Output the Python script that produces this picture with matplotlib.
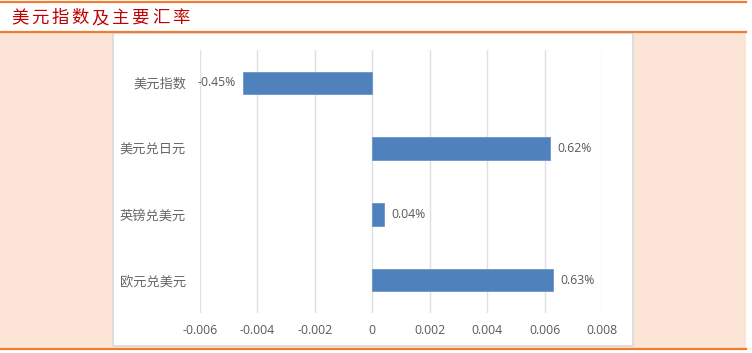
import matplotlib.pyplot as plt
from matplotlib.patches import Rectangle

plt.rcParams['font.family'] = ['Noto Sans CJK SC', 'DejaVu Sans']

title = "美元指数及主要汇率"
categories = ["美元指数", "美元兑日元", "英镑兑美元", "欧元兑美元"]
values = [-0.0045, 0.0062, 0.0004, 0.0063]
xticks = [-0.006, -0.004, -0.002, 0, 0.002, 0.004, 0.006, 0.008]
xtick_labels = ["-0.006", "-0.004", "-0.002", "0", "0.002", "0.004", "0.006", "0.008"]

W, H = 752, 353
fig = plt.figure(figsize=(W / 100, H / 100), dpi=100)
fig.patch.set_facecolor("white")

def fx(px):
    return px / W

def fy(py):
    return 1 - py / H

orange = "#ED7D31"
peach = "#FCE4D6"
grey = "#595959"

# peach background and white chart panel
fig.add_artist(Rectangle((0, fy(349)), fx(746), fy(32) - fy(349),
                         transform=fig.transFigure, facecolor=peach, edgecolor="none", zorder=0))
fig.add_artist(Rectangle((fx(113), fy(346)), fx(633 - 113), fy(33) - fy(346),
                         transform=fig.transFigure, facecolor="white", edgecolor="#D9D9D9",
                         linewidth=1.2, zorder=1))

# orange rules
for py in (2, 32, 349):
    fig.add_artist(plt.Line2D([0, fx(746)], [fy(py), fy(py)], transform=fig.transFigure,
                              color=orange, linewidth=1.6, zorder=3))

# title, letter spaced
for i, ch in enumerate(title):
    fig.text(fx(11 + i * 20.2), fy(18), ch, color="#C00000", fontsize=12.5,
             fontweight="medium", va="center", ha="left", zorder=4)

ax = fig.add_axes([fx(200), fy(313), fx(602) - fx(200), fy(50) - fy(313)])
ax.set_facecolor("none")
ax.set_zorder(2)

ypos = list(range(len(categories)))
ax.barh(ypos, values, height=0.34, color="#4F81BD", edgecolor="#6C95C8", linewidth=0.6, zorder=3)

for y, v in zip(ypos, values):
    lab = f"{v * 100:.2f}%"
    if v < 0:
        ax.text(v - 0.00025, y, lab, ha="right", va="center", fontsize=8.8,
                color=grey, family=["Open Sans", "DejaVu Sans"])
    else:
        ax.text(v + 0.00025, y, lab, ha="left", va="center", fontsize=8.8,
                color=grey, family=["Open Sans", "DejaVu Sans"])

ax.set_xlim(-0.006, 0.008)
ax.set_ylim(3.5, -0.5)
ax.set_xticks(xticks)
ax.set_xticklabels(xtick_labels, family=["Open Sans", "DejaVu Sans"], fontsize=8.8, color=grey)
ax.set_yticks(ypos)
ax.set_yticklabels(categories, fontsize=9.5, color="#666666")
ax.tick_params(length=0, pad=8)
ax.tick_params(axis="y", pad=10)
ax.grid(axis="x", color="#E0E0E0", linewidth=1, zorder=0)
ax.set_axisbelow(True)
for s in ax.spines.values():
    s.set_visible(False)

fig.savefig("out.png", dpi=100, facecolor=fig.get_facecolor())
